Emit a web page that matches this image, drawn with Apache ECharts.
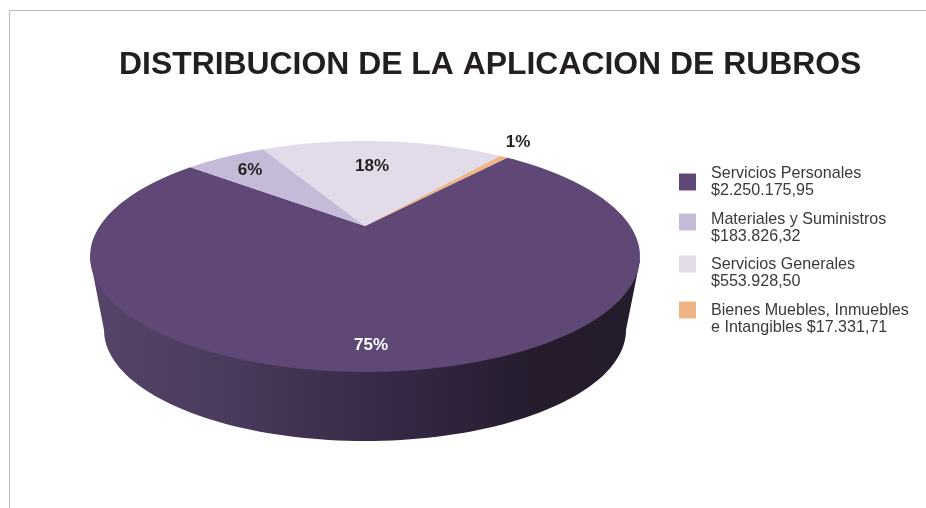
<!DOCTYPE html>
<html>
<head>
<meta charset="utf-8">
<title>Distribucion de la aplicacion de rubros</title>
<style>
  html, body { margin: 0; padding: 0; background: #fff; }
  #chart { width: 926px; height: 508px; }
</style>
</head>
<body>
<div id="chart"></div>
<script src="https://cdn.jsdelivr.net/npm/echarts@6/dist/echarts.min.js"></script>
<script>
const categories = ['Servicios Personales', 'Materiales y Suministros', 'Servicios Generales', 'Bienes Muebles, Inmuebles'];
const amounts = [2250175.95, 183826.32, 553928.50, 17331.71];
const legendLines = [
  ['Servicios Personales', '$2.250.175,95'],
  ['Materiales y Suministros', '$183.826,32'],
  ['Servicios Generales', '$553.928,50'],
  ['Bienes Muebles, Inmuebles', 'e Intangibles $17.331,71']
];
const colors = ['#5f4876', '#c5bad8', '#e2dcea', '#eeb486'];

const total = amounts.reduce((a, b) => a + b, 0);

// tapa del pastel: circulo en perspectiva, el centro cae en (365, 226)
const top3d = { cx: 365, cy: 226, a: 0.264, b: 107.4, c: 265.2 };
// base visible, mas chica que la tapa
const base3d = { cx: 365, cy: 330, rx: 261, ry: 111 };
const startDeg = 49.9;

// posicion de cada porcentaje y de cada fila de la leyenda
const labelPos = [[371, 345], [250, 170], [372, 166], [518, 142]];
const legendTop = [165, 199, 237.5, 283.5];
// en la original el cuadro queda mas arriba que el texto: 'gap' baja el texto
const legendGap = ['gap0', 'gap12', 'gap19', 'gap19'];

function project(deg, r) {
  const t = deg * Math.PI / 180;
  const u = r * Math.cos(t);
  const v = r * Math.sin(t);
  const w = 1 + top3d.a * v;
  return [top3d.cx + top3d.c * u / w, top3d.cy - top3d.b * v / w];
}

function sliceAngles(i) {
  let from = startDeg;
  for (let k = 0; k < i; k++) from -= amounts[k] / total * 360;
  return [from, from - amounts[i] / total * 360];
}

function wallShape() {
  const pts = [[top3d.cx - 275, 258]];
  for (let d = 180; d <= 360; d += 2) {
    const t = d * Math.PI / 180;
    pts.push([base3d.cx + base3d.rx * Math.cos(t), base3d.cy - base3d.ry * Math.sin(t)]);
  }
  pts.push([top3d.cx + 275, 260]);
  return {
    type: 'polygon',
    shape: { points: pts },
    style: {
      fill: new echarts.graphic.LinearGradient(0, 0, 1, 0, [
        { offset: 0, color: '#574569' },
        { offset: 0.25, color: '#4a3a5b' },
        { offset: 0.5, color: '#3a2b4a' },
        { offset: 0.7, color: '#2c2138' },
        { offset: 0.8, color: '#261c2e' },
        { offset: 1, color: '#241b2c' }
      ])
    }
  };
}

function renderSlice(i) {
  const [from, to] = sliceAngles(i);
  const pts = [project(0, 0)];
  const steps = Math.max(2, Math.ceil((from - to) / 2));
  for (let s = 0; s <= steps; s++) {
    pts.push(project(from + (to - from) * s / steps, 1));
  }
  const children = [];
  if (i === 0) children.push(wallShape());
  children.push({ type: 'polygon', shape: { points: pts }, style: { fill: colors[i] } });
  children.push({
    type: 'text',
    z2: 10,
    style: {
      x: labelPos[i][0],
      y: labelPos[i][1],
      text: Math.round(amounts[i] / total * 100) + '%',
      fill: i === 0 ? '#ffffff' : '#231f20',
      font: 'bold 17px "Liberation Sans", Arial, sans-serif',
      align: 'center',
      verticalAlign: 'middle'
    }
  });
  return { type: 'group', children: children };
}

const legendText = {
  color: '#3a3a3c',
  fontFamily: '"Liberation Sans", Arial, sans-serif',
  fontSize: 16.1,
  lineHeight: 17
};

const chart = echarts.init(document.getElementById('chart'), null, { renderer: 'canvas' });

chart.setOption({
  animation: false,
  backgroundColor: '#ffffff',
  title: {
    text: 'DISTRIBUCION DE LA APLICACION DE RUBROS',
    left: 119,
    top: 49,
    padding: 0,
    textStyle: {
      color: '#231f20',
      fontFamily: '"Liberation Sans", Arial, sans-serif',
      fontWeight: 'bold',
      fontSize: 31.9
    }
  },
  legend: categories.map((name, i) => ({
    data: [name],
    left: 679,
    top: legendTop[i],
    padding: 0,
    icon: 'rect',
    itemWidth: 17,
    itemHeight: 17,
    itemGap: 0,
    selectedMode: false,
    formatter: () => {
      const lines = legendLines[i].map(t => '{t|' + t + '}').join('\n');
      return legendGap[i] === 'gap0' ? lines : '{' + legendGap[i] + '| }\n' + lines;
    },
    textStyle: {
      ...legendText,
      padding: [0, 0, 0, 10],
      rich: {
        t: { ...legendText },
        gap12: { fontSize: 8, height: 12, lineHeight: 12 },
        gap19: { fontSize: 8, height: 19, lineHeight: 19 }
      }
    }
  })),
  graphic: [{
    type: 'polyline',
    silent: true,
    shape: { points: [[9.5, 508], [9.5, 10.5], [926, 10.5]] },
    style: { stroke: '#b9b9b9', lineWidth: 1, fill: null }
  }],
  series: categories.map((name, i) => ({
    name: name,
    type: 'custom',
    coordinateSystem: 'none',
    silent: true,
    itemStyle: { color: colors[i] },
    data: [amounts[i]],
    renderItem: () => renderSlice(i)
  }))
});
</script>
</body>
</html>
